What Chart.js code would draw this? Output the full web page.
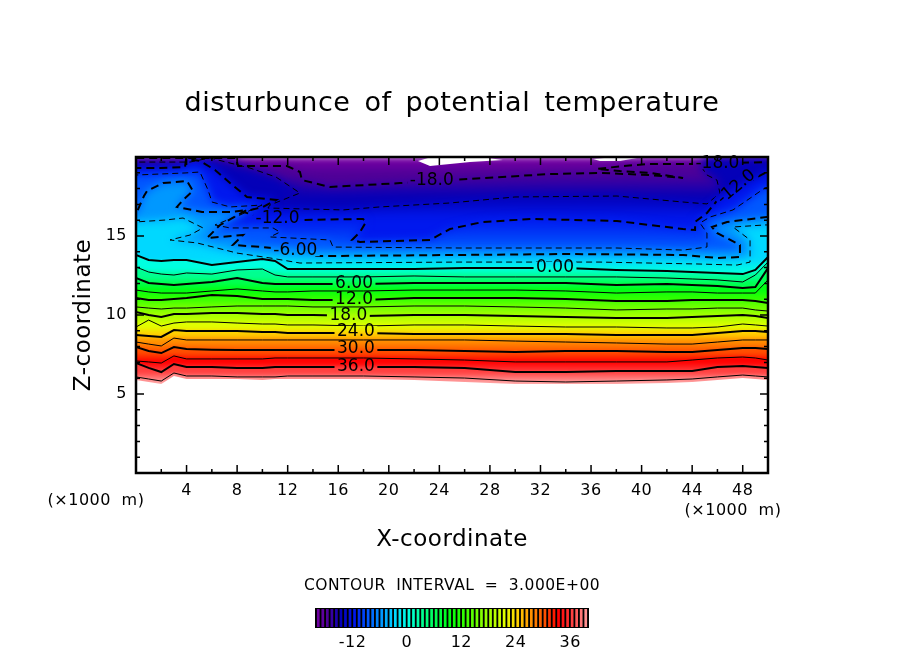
<!DOCTYPE html>
<html>
<head>
<meta charset="utf-8">
<title>disturbunce of potential temperature</title>
<script src="https://cdn.jsdelivr.net/npm/chart.js@4"></script>
<style>
    body { margin: 0; background: #fff; }
    #fieldChart { position: absolute; left: 0; top: 0; }
    #barChart { position: absolute; left: 300px; top: 600px; }
</style>
</head>
<body>
<canvas id="fieldChart" width="904" height="654"></canvas>
<canvas id="barChart" width="304" height="54"></canvas>
<script>
// Stations (x, in km) shared by the flat contours from 0 upward
const stations = [0,1,2,3,4,6,8,10,11,12,14,18,22,26,30,34,38,42,44,46,48,49,50];

const z0  = [13.80,13.48,13.42,13.48,13.48,13.16,13.35,13.54,13.42,12.91,12.91,12.91,12.91,12.97,12.97,12.97,12.85,12.78,12.72,12.66,12.59,12.85,13.67];
const z3  = [13.04,12.72,12.59,12.53,12.66,12.59,12.85,12.91,12.53,12.41,12.41,12.41,12.47,12.41,12.41,12.41,12.41,12.34,12.28,12.22,12.09,12.53,13.35];
const z6  = [12.34,12.03,11.96,11.90,11.96,12.09,12.34,12.03,11.96,11.96,11.96,11.96,12.03,12.03,12.03,12.03,11.90,11.96,11.90,11.84,11.71,11.77,12.97];
const z9  = [11.58,11.46,11.39,11.39,11.39,11.52,11.65,11.52,11.46,11.46,11.52,11.52,11.58,11.58,11.58,11.52,11.39,11.46,11.46,11.39,11.39,11.39,12.22];
const z12 = [11.08,10.95,10.95,11.01,11.08,11.27,11.20,11.01,11.01,11.01,10.95,10.95,11.08,11.08,11.08,11.01,10.89,10.89,10.95,10.95,10.95,10.89,10.76];
const z15 = [10.51,10.44,10.38,10.44,10.44,10.51,10.57,10.57,10.57,10.57,10.51,10.51,10.57,10.57,10.51,10.44,10.32,10.38,10.38,10.44,10.44,10.32,10.25];
const z18 = [10.19,10.00,9.87,10.06,10.06,10.13,10.13,10.06,10.06,10.00,10.00,9.94,10.00,10.00,9.94,9.87,9.81,9.81,9.87,9.94,10.00,9.94,9.81];
const z21 = [9.24,9.68,9.30,9.49,9.56,9.56,9.49,9.43,9.43,9.37,9.37,9.30,9.37,9.37,9.30,9.24,9.24,9.18,9.18,9.24,9.43,9.37,9.30];
const z24 = [8.73,8.67,8.61,9.05,8.99,8.99,8.99,8.92,8.92,8.86,8.86,8.86,8.80,8.80,8.80,8.80,8.73,8.73,8.73,8.86,8.99,8.99,8.92];
const z27 = [8.29,8.16,8.04,8.54,8.42,8.42,8.42,8.42,8.42,8.42,8.42,8.42,8.42,8.42,8.35,8.29,8.23,8.16,8.16,8.29,8.42,8.42,8.42];
const z30 = [7.97,7.72,7.59,7.97,7.85,7.80,7.78,7.78,7.78,7.78,7.78,7.78,7.78,7.72,7.66,7.72,7.72,7.66,7.66,7.78,7.91,7.91,7.85];
const z33 = [7.09,7.03,6.96,7.41,7.22,7.22,7.22,7.22,7.28,7.28,7.28,7.28,7.22,7.15,7.03,7.03,7.03,7.03,7.15,7.28,7.34,7.28,7.15];
const z36 = [6.96,6.65,6.39,6.90,6.71,6.71,6.65,6.65,6.71,6.71,6.71,6.71,6.71,6.65,6.39,6.39,6.46,6.46,6.46,6.71,6.77,6.71,6.65];
const z39 = [6.08,5.95,5.82,6.33,6.14,6.14,6.08,6.08,6.08,6.14,6.14,6.14,6.08,6.01,5.82,5.76,5.82,5.89,5.95,6.08,6.20,6.14,6.08];
const zEdge = [5.89,5.76,5.63,6.14,5.95,5.95,5.95,5.89,5.95,5.95,5.95,5.95,5.89,5.76,5.63,5.63,5.63,5.70,5.76,5.89,6.01,5.95,5.89];

// Negative contours wander and fold back, so each has its own x list
const xNeg18 = [0,4.11,7.91,8.07,11.95,12.97,13.13,15.35,20.89,24.84,32.75,36.71,40.66,43.28,40.66,38.29,36.47,38.53,40.66,43.83,49.92];
const zNeg18 = [19.94,19.94,19.94,19.43,19.43,19.05,18.54,18.10,18.35,18.54,18.92,18.99,18.86,18.67,18.99,19.11,19.24,19.43,19.56,19.56,19.68];

const xNeg15 = [0,4.27,5.85,9.02,11.08,12.97,10.6,10.44,16.38,19.3,24.84,29.98,38.05,43.28,45.17,46.2,45.96,45.17,44.62,45.02,49.92];
const zNeg15 = [19.68,19.68,19.94,19.30,18.73,17.72,16.96,16.77,16.65,16.84,17.09,17.47,17.53,17.15,17.03,17.72,18.54,18.86,19.49,20.0,20.0];

const xNeg12 = [0,1.9,3.88,3.96,5.06,6.25,7.44,8.78,11.08,10.05,8.47,9.97,12.97,17.96,18.2,17.72,17.09,17.72,23.26,24.84,27.45,31.41,38.05,43.28,44.23,44.23,45.17,46.2,49.92];
const zNeg12 = [19.30,19.30,19.37,19.87,19.75,19.18,18.35,17.47,17.28,16.84,16.52,16.20,16.01,16.08,15.89,15.25,14.75,14.62,14.75,15.44,15.89,16.08,15.95,15.44,15.38,15.89,16.46,17.47,19.05];

const xNeg9 = [0,3.88,5.06,5.7,6.01,7.44,9.97,8.23,6.25,7.44,10.84,11.39,10.6,15.35,15.59,25.63,38.05,43.28,45.17,45.17,44.62,45.41,47.23,49.76,50.1];
const zNeg9 = [18.86,18.99,19.05,17.91,17.15,16.84,16.96,16.33,15.70,15.51,15.51,15.25,14.94,14.75,14.30,14.24,14.24,14.11,14.30,15.19,15.82,16.20,16.65,18.04,18.10];

const xNeg6 = [0,0.63,0.87,2.14,4.03,4.51,3.72,3.24,5.22,7.44,8.78,6.65,5.62,8.47,7.67,10.05,12.58,14.32,25.63,34.02,43.28,45.96,47.78,47.78,45.96,45.57,46.76,49.92];
const zNeg6 = [16.39,17.53,17.85,18.35,18.48,17.85,17.28,16.84,16.52,16.52,16.65,15.70,14.87,15.06,14.43,14.30,14.11,13.73,13.80,13.86,13.80,13.61,13.67,14.43,15.19,15.57,15.89,16.20];

const xNeg3 = [0,2.29,3.72,5.3,4.27,2.69,4.83,7.99,10.6,12.97,25.63,36.71,44.38,47.55,48.58,48.58,47.23,49.76,50.1];
const zNeg3 = [15.89,16.01,16.14,15.51,15.06,14.75,14.56,13.92,13.61,13.29,13.35,13.35,13.23,13.16,13.35,14.75,15.57,15.70,15.70];

// Off-scale cold patches along the top edge, left white by the colour table
const xPatchA = [22.31,23.1,27.22,29.03,26.42,24.84,23.26];
const zPatchA = [19.75,19.94,20.0,19.81,19.68,19.56,19.43];
const xPatchB = [36.16,37.5,39.64,38.29,36.71];
const zPatchB = [19.87,19.97,19.94,19.75,19.75];

// Contour labels
const labelText  = ["-18.0","-18.0","-12.0","-12.0","-6.00","0.00","6.00","12.0","18.0","24.0","30.0","36.0"];
const labelX     = [23.4,46.0,11.2,47.5,12.6,33.15,17.25,17.25,16.8,17.4,17.4,17.4];
const labelZ     = [18.48,19.6,16.08,18.1,14.1,12.97,11.96,10.95,9.94,8.92,7.85,6.71];
const labelAngle = [0,0,0,-40,0,0,0,0,0,0,0,0];

// Colour table and colour bar
const colorLevels = [-21,-18,-15,-12,-9,-6,-3,0,3,6,9,12,15,18,21,24,27,30,33,36,39,42];
const colorValues = ["#7d00a5","#4f0098","#0400b8","#0018ee","#0058ff","#0098ff","#00d8ff","#00ffe0","#00ff90","#00ff50","#00ff10","#30ff00","#70ff00","#a8ff00","#e0ff00","#ffd000","#ff9000","#ff5000","#ff0000","#ff4040","#ff9090","#ffb0b0"];
const barLevels = [-20,-19,-18,-17,-16,-15,-14,-13,-12,-11,-10,-9,-8,-7,-6,-5,-4,-3,-2,-1,0,1,2,3,4,5,6,7,8,9,10,11,12,13,14,15,16,17,18,19,20,21,22,23,24,25,26,27,28,29,30,31,32,33,34,35,36,37,38,39];
const barTickLabels = [-12,0,12,24,36];

const FONT = "'DejaVu Sans', sans-serif";

function hexToRgb(hex) {
    return [1, 3, 5].map(i => parseInt(hex.slice(i, i + 2), 16));
}

function colorAt(level) {
    let i = 0;
    while (i < colorLevels.length - 2 && level > colorLevels[i + 1]) i++;
    const t = Math.max(0, Math.min(1, (level - colorLevels[i]) / (colorLevels[i + 1] - colorLevels[i])));
    const a = hexToRgb(colorValues[i]), b = hexToRgb(colorValues[i + 1]);
    return `rgb(${a.map((v, k) => Math.round(v + (b[k] - v) * t)).join(",")})`;
}

// Height of a contour closest to the middle of the domain, used to span the band gradient
function zMid(xs, zs) {
    let best = 0;
    xs.forEach((x, i) => { if (Math.abs(x - 30) < Math.abs(xs[best] - 30)) best = i; });
    return zs[best];
}

// Region warmer than a contour: the contour itself, closed well outside the plot
function warmRegion(xs, zs) {
    const pts = [{ x: 51, y: -1 }, { x: -1, y: -1 }, { x: -1, y: zs[0] }];
    xs.forEach((x, i) => pts.push({ x: x, y: zs[i] }));
    pts.push({ x: 51, y: zs[zs.length - 1] });
    return pts;
}

function ringOf(xs, zs) {
    const pts = xs.map((x, i) => ({ x: x, y: zs[i] }));
    pts.push({ x: xs[0], y: zs[0] });
    return pts;
}

const layers = [
    { level: -18, x: xNeg18, z: zNeg18 },
    { level: -15, x: xNeg15, z: zNeg15 },
    { level: -12, x: xNeg12, z: zNeg12 },
    { level: -9,  x: xNeg9,  z: zNeg9 },
    { level: -6,  x: xNeg6,  z: zNeg6 },
    { level: -3,  x: xNeg3,  z: zNeg3 },
    { level: 0,  x: stations, z: z0 },
    { level: 3,  x: stations, z: z3 },
    { level: 6,  x: stations, z: z6 },
    { level: 9,  x: stations, z: z9 },
    { level: 12, x: stations, z: z12 },
    { level: 15, x: stations, z: z15 },
    { level: 18, x: stations, z: z18 },
    { level: 21, x: stations, z: z21 },
    { level: 24, x: stations, z: z24 },
    { level: 27, x: stations, z: z27 },
    { level: 30, x: stations, z: z30 },
    { level: 33, x: stations, z: z33 },
    { level: 36, x: stations, z: z36 },
    { level: 39, x: stations, z: z39 }
];

function bandFill(level, zFrom, zTo) {
    return (ctx) => {
        const { chart } = ctx;
        const yScale = chart.scales.y;
        if (!yScale || !chart.chartArea) return colorAt(level);
        const g = chart.ctx.createLinearGradient(0, yScale.getPixelForValue(zFrom), 0, yScale.getPixelForValue(zTo));
        g.addColorStop(0, colorAt(level));
        g.addColorStop(1, colorAt(level + 3));
        return g;
    };
}

// Fills only: softened a little so the bands melt into each other as in the shaded field
function fillDataset(points, fillColor, blur) {
    return {
        data: points, showLine: true, fill: "shape", tension: 0, pointRadius: 0,
        borderWidth: 0, backgroundColor: fillColor, softBlur: blur
    };
}

function lineDataset(points, level) {
    const thick = level % 6 === 0;
    return {
        data: points, showLine: true, fill: false, tension: 0, pointRadius: 0,
        borderColor: "#000",
        borderWidth: thick ? 2 : 1,
        borderDash: level < 0 ? (thick ? [8, 5] : [6, 4]) : []
    };
}

const fills = [];
fills.push(fillDataset(warmRegion([0, 50], [20, 20]), bandFill(-21, 20, zMid(xNeg18, zNeg18)), 3));
layers.forEach((layer, i) => {
    const next = layers[i + 1];
    const zNext = next ? zMid(next.x, next.z) : zMid(stations, zEdge);
    fills.push(fillDataset(warmRegion(layer.x, layer.z), bandFill(layer.level, zMid(layer.x, layer.z), zNext), layer.level < 0 ? 5 : 1.5));
});
fills.splice(1, 0, fillDataset(ringOf(xPatchA, zPatchA), "#fff", 0), fillDataset(ringOf(xPatchB, zPatchB), "#fff", 0));
fills.push(fillDataset(warmRegion(stations, zEdge), "#fff", 0));

// Chart.js draws the last dataset first: fills coldest to warmest, then every line on top
const allDatasets = layers.map(l => lineDataset(warmRegion(l.x, l.z), l.level)).concat(fills.slice().reverse());

function textSpacing(chart) {
    chart.ctx.letterSpacing = "0.5px";
    chart.ctx.wordSpacing = "5px";
}

function labelBox(chart, i) {
    const cx = chart.scales.x.getPixelForValue(labelX[i]);
    const cy = chart.scales.y.getPixelForValue(labelZ[i]);
    chart.ctx.save();
    chart.ctx.font = `17px ${FONT}`;
    chart.ctx.letterSpacing = "0px";
    const w = chart.ctx.measureText(labelText[i]).width + 5;
    chart.ctx.restore();
    return { cx, cy, w, h: 12, a: labelAngle[i] * Math.PI / 180 };
}

function blurFilter(dataset) {
    return dataset && dataset.softBlur ? `blur(${dataset.softBlur}px)` : "none";
}

// Sets the softening for each fill, cuts the lines at their labels, and draws labels, ticks and frame
const contourDecor = {
    id: "contourDecor",
    beforeDraw: textSpacing,
    beforeDatasetsDraw(chart) {
        const sets = chart.data.datasets;
        chart.ctx.filter = blurFilter(sets[sets.length - 1]);
    },
    beforeDatasetDraw(chart) {
        const { ctx, chartArea: a } = chart;
        ctx.filter = "none";
        ctx.save();
        ctx.beginPath();
        ctx.rect(a.left, a.top, a.width, a.height);
        labelText.forEach((t, i) => {
            const b = labelBox(chart, i);
            const cos = Math.cos(b.a), sin = Math.sin(b.a);
            [[-1, -1], [1, -1], [1, 1], [-1, 1]].forEach((c, k) => {
                const dx = c[0] * b.w / 2, dy = c[1] * b.h / 2;
                const px = b.cx + dx * cos - dy * sin, py = b.cy + dx * sin + dy * cos;
                if (k === 0) ctx.moveTo(px, py); else ctx.lineTo(px, py);
            });
            ctx.closePath();
        });
        ctx.clip("evenodd");
    },
    afterDatasetDraw(chart, args) {
        chart.ctx.restore();
        chart.ctx.filter = blurFilter(chart.data.datasets[args.index - 1]);
    },
    afterDatasetsDraw(chart) {
        const { ctx, chartArea: a, scales } = chart;
        ctx.filter = "none";
        ctx.save();
        ctx.font = `17px ${FONT}`;
        ctx.letterSpacing = "0px";
        ctx.fillStyle = "#000";
        ctx.textAlign = "center";
        ctx.textBaseline = "middle";
        labelText.forEach((t, i) => {
            const b = labelBox(chart, i);
            ctx.save();
            ctx.translate(b.cx, b.cy);
            ctx.rotate(b.a);
            ctx.fillText(t, 0, 0);
            ctx.restore();
        });
        textSpacing(chart);

        ctx.strokeStyle = "#000";
        ctx.lineWidth = 1.5;
        ctx.beginPath();
        scales.x.ticks.forEach(t => {
            const px = scales.x.getPixelForValue(t.value);
            const len = t.value % 4 === 0 ? 8 : 4;
            ctx.moveTo(px, a.bottom); ctx.lineTo(px, a.bottom - len);
            ctx.moveTo(px, a.top); ctx.lineTo(px, a.top + len);
        });
        scales.y.ticks.forEach(t => {
            const py = scales.y.getPixelForValue(t.value);
            const len = t.value % 5 === 0 ? 8 : 4;
            ctx.moveTo(a.left, py); ctx.lineTo(a.left + len, py);
            ctx.moveTo(a.right, py); ctx.lineTo(a.right - len, py);
        });
        ctx.stroke();
        ctx.lineWidth = 2.5;
        ctx.strokeRect(a.left, a.top, a.width, a.height);

        ctx.font = `16px ${FONT}`;
        ctx.fillText("(×1000 m)", 96, 501);
        ctx.fillText("(×1000 m)", 733, 511);
        ctx.font = `15.5px ${FONT}`;
        ctx.fillText("CONTOUR INTERVAL = 3.000E+00", 452, 586);
        ctx.restore();
    }
};

new Chart(document.getElementById("fieldChart"), {
    type: "scatter",
    data: { datasets: allDatasets },
    plugins: [contourDecor],
    options: {
        responsive: false,
        animation: false,
        devicePixelRatio: 1,
        plugins: {
            legend: { display: false },
            tooltip: { enabled: false },
            title: {
                display: true,
                text: "disturbunce of potential temperature",
                color: "#000",
                font: { family: FONT, size: 27, weight: "normal", lineHeight: 1.2 },
                padding: { top: 88, bottom: 36.6 }
            }
        },
        scales: {
            x: {
                type: "linear", min: 0, max: 50,
                grid: { display: false, drawTicks: false },
                border: { display: false },
                ticks: {
                    stepSize: 2, autoSkip: false, maxRotation: 0, padding: 8, color: "#000",
                    font: { family: FONT, size: 16 },
                    callback: v => (v % 4 === 0 && v > 0 && v < 50) ? v : ""
                },
                title: {
                    display: true, text: "X-coordinate", color: "#000",
                    font: { family: FONT, size: 23, lineHeight: 1.2 },
                    padding: { top: 0, bottom: 100 }
                },
                afterFit: scale => { scale.height = 181; }
            },
            y: {
                type: "linear", min: 0, max: 20,
                grid: { display: false, drawTicks: false },
                border: { display: false },
                ticks: {
                    stepSize: 1, autoSkip: false, padding: 9, color: "#000",
                    font: { family: FONT, size: 16 },
                    callback: v => (v % 5 === 0 && v > 0 && v < 20) ? v : ""
                },
                title: {
                    display: true, text: "Z-coordinate", color: "#000",
                    font: { family: FONT, size: 23, lineHeight: 1.2 },
                    padding: { top: 70, bottom: 0 }
                },
                afterFit: scale => { scale.width = 136; }
            },
            // empty axis that only reserves the right margin, so the title stays centred on the page
            yRight: {
                type: "linear", position: "right",
                grid: { display: false, drawTicks: false },
                border: { display: false },
                ticks: { display: false },
                afterFit: scale => { scale.width = 136; }
            }
        }
    }
});

// Colour bar, black behind the cells
const barBackdrop = {
    id: "barBackdrop",
    beforeDraw: textSpacing,
    beforeDatasetsDraw(chart) {
        const a = chart.chartArea;
        chart.ctx.save();
        chart.ctx.fillStyle = "#000";
        chart.ctx.fillRect(a.left - 1, a.top - 1, a.width + 2, a.height + 2);
        chart.ctx.restore();
    }
};

new Chart(document.getElementById("barChart"), {
    type: "bar",
    data: {
        labels: barLevels,
        datasets: [{
            data: barLevels.map(() => 1),
            backgroundColor: barLevels.map(colorAt),
            barPercentage: 0.6,
            categoryPercentage: 1
        }]
    },
    plugins: [barBackdrop],
    options: {
        responsive: false,
        animation: false,
        devicePixelRatio: 1,
        layout: { padding: { left: 16, right: 16, top: 9, bottom: 0 } },
        plugins: { legend: { display: false }, tooltip: { enabled: false } },
        scales: {
            x: {
                grid: { display: false, drawTicks: false },
                border: { display: false },
                ticks: {
                    autoSkip: false, maxRotation: 0, padding: 6, labelOffset: -2, color: "#000",
                    font: { family: FONT, size: 16 },
                    callback(v) {
                        const level = barLevels[v];
                        return barTickLabels.includes(level) ? level : "";
                    }
                },
                afterFit: scale => { scale.height = 27; }
            },
            y: { display: false, min: 0, max: 1 }
        }
    }
});
</script>
</body>
</html>
